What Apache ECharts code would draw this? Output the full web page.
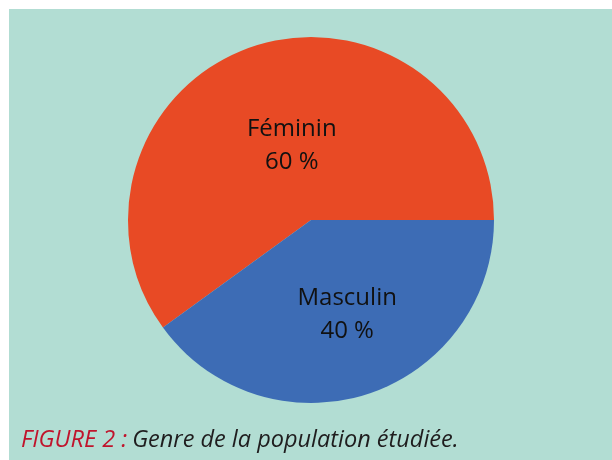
<!DOCTYPE html>
<html>
<head>
<meta charset="utf-8">
<script src="https://cdn.jsdelivr.net/npm/echarts@6/dist/echarts.min.js"></script>
<style>
  html, body { margin: 0; padding: 0; background: #ffffff; }
  #chart { width: 612px; height: 460px; }
</style>
</head>
<body>
<div id="chart"></div>
<script>
// données du graphique
const categories = ['Féminin', 'Masculin']
const values = [60, 40]
const colors = ['#e84a25', '#3d6cb5']
// décalage des étiquettes (style)
const labelOffsets = [[10, 16], [7, 5]]

const chart = echarts.init(document.getElementById('chart'))

chart.setOption({
  animation: false,
  // fond vert d'eau
  graphic: [
    {
      type: 'rect',
      z: -10,
      shape: { x: 9, y: 9, width: 603, height: 451 },
      style: { fill: '#b2ddd3' }
    }
  ],
  title: {
    left: 16,
    top: 424,
    text: '{a|FIGURE 2 :} {b|Genre de la population étudiée.}',
    textStyle: {
      fontWeight: 'normal',
      rich: {
        a: { fontFamily: 'Open Sans', fontStyle: 'italic', fontWeight: 'normal', fontSize: 23.5, color: '#c0142c' },
        b: { fontFamily: 'Open Sans', fontStyle: 'italic', fontWeight: 'normal', fontSize: 23.5, color: '#1f1d1e' }
      }
    }
  },
  series: [
    {
      type: 'pie',
      center: [311, 220],
      radius: 183,
      startAngle: 0,
      clockwise: false,
      data: categories.map((c, i) => ({
        name: c,
        value: values[i],
        itemStyle: { color: colors[i] },
        label: { offset: labelOffsets[i] }
      })),
      label: {
        position: 'inside',
        formatter: p => p.name + '\n' + p.value + ' %',
        fontFamily: 'Open Sans',
        fontSize: 24,
        lineHeight: 33,
        color: '#111111'
      },
      labelLine: { show: false },
      emphasis: { disabled: true }
    }
  ]
})
</script>
</body>
</html>
